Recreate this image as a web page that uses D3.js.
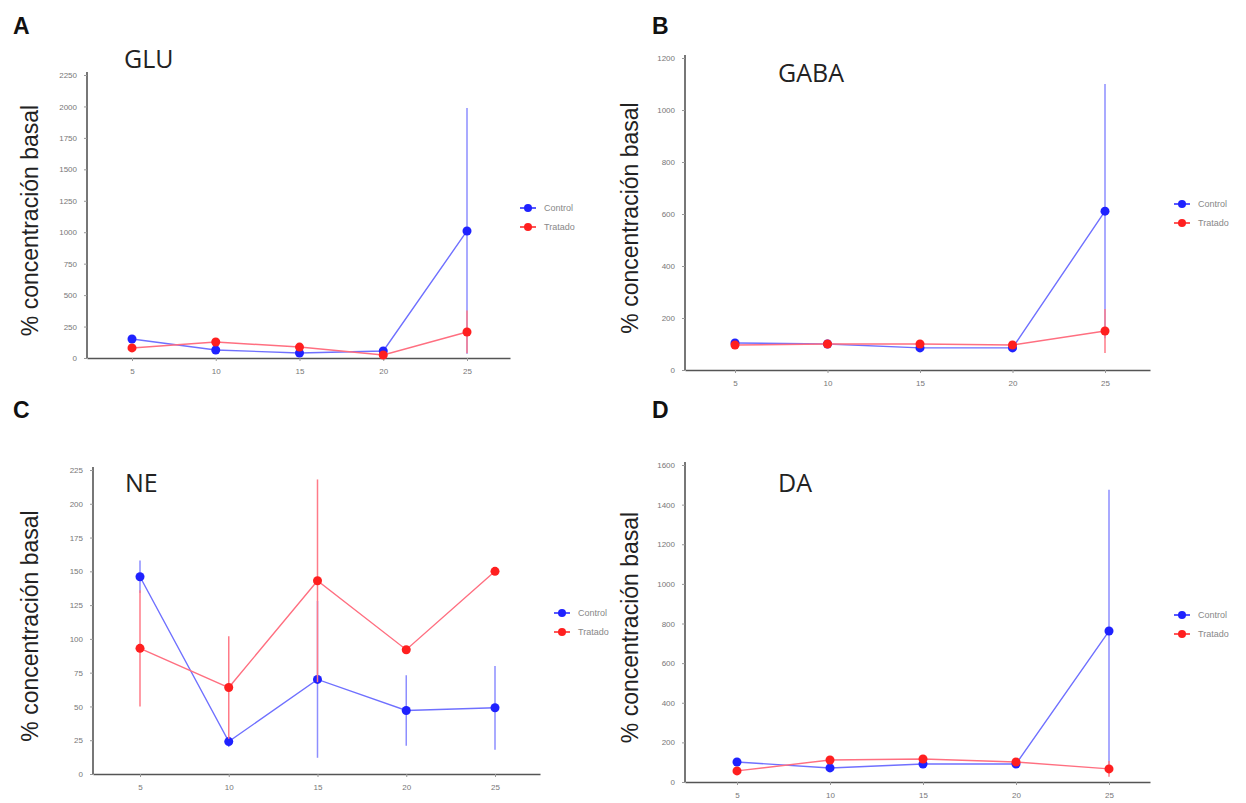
<!DOCTYPE html>
<html>
<head>
<meta charset="utf-8">
<script src="https://cdn.jsdelivr.net/npm/d3@7"></script>
<style>
  body { margin: 0; background: #fff; }
  svg { display: block; }
</style>
</head>
<body>
<div id="chart"></div>
<script>
// minutes
var times = [5, 10, 15, 20, 25];

// GLU
var gluControl = [151, 64, 40, 56, 1010];
var gluControlErr = [18, 10, 8, 8, 977];
var gluTratado = [80, 127, 87, 24, 207];
var gluTratadoErr = [22, 14, 10, 6, 170];

// GABA
var gabaControl = [104, 100, 85, 85, 611];
var gabaControlErr = [8, 6, 6, 6, 489];
var gabaTratado = [96, 100, 100, 96, 150];
var gabaTratadoErr = [8, 6, 6, 6, 85];

// NE
var neControl = [146, 24, 70, 47, 49];
var neControlErr = [12, 4, 58, 26, 31];
var neTratado = [93, 64, 143, 92, 150];
var neTratadoErr = [43, 38, 75, 2, 2];

// DA
var daControl = [101, 71, 91, 91, 762];
var daControlErr = [10, 6, 8, 8, 713];
var daTratado = [56, 111, 116, 101, 66];
var daTratadoErr = [10, 10, 10, 8, 40];

var legendLabels = ["Control", "Tratado"];

var blue = "#1f22ff", red = "#ff1f1f";

var svg = d3.select("#chart")
  .append("svg")
  .attr("width", 1246)
  .attr("height", 803)
  .style("font-family", "'Liberation Sans', Arial, sans-serif")

function drawPanel(p) {
  var g = svg.append("g")

  var x = d3.scaleLinear().domain([5, 25]).range([p.x5, p.x25])
  var y = d3.scaleLinear().domain([0, p.ymax]).range([p.y0, p.ytop])

  // x axis, stretched from the y axis to the right end
  var xAxisScale = d3.scaleLinear()
    .domain([x.invert(p.left), x.invert(p.right)])
    .range([p.left, p.right])
  var xa = g.append("g")
    .attr("transform", `translate(0, ${p.y0})`)
    .call(d3.axisBottom(xAxisScale).tickValues(times).tickSize(3).tickSizeOuter(0))
  xa.select(".domain").attr("stroke", "#555").attr("stroke-width", 1.6)
  xa.selectAll(".tick line").attr("stroke", "#999")
  xa.selectAll("text").attr("fill", "#777").style("font-size", "8px").attr("dy", "1.3em")

  // y axis
  var ya = g.append("g")
    .attr("transform", `translate(${p.left}, 0)`)
    .call(d3.axisLeft(y).tickValues(d3.range(0, p.ymax + 1, p.step))
      .tickFormat(d3.format("d")).tickSize(3).tickSizeOuter(0))
  ya.select(".domain").attr("stroke", "#555").attr("stroke-width", 1.6)
    .attr("d", `M0,${p.y0}V${p.ytop - 3}`)
  ya.selectAll(".tick line").attr("stroke", "#999")
  ya.selectAll("text").attr("fill", "#777").style("font-size", "8px").attr("dx", "-0.5em")

  // y label
  g.append("text")
    .attr("transform", `translate(${p.labelX}, ${(p.y0 + p.ytop) / 2 + 4}) rotate(-90)`)
    .attr("text-anchor", "middle")
    .style("font-size", "23px")
    .attr("fill", "#222")
    .text("% concentración basal")

  // panel letter
  g.append("text")
    .attr("x", p.letterX).attr("y", p.letterY)
    .style("font-size", "23px").style("font-weight", "bold")
    .attr("fill", "#111")
    .text(p.letter)

  // title
  g.append("text")
    .attr("x", p.titleX).attr("y", p.titleY)
    .style("font-family", "'Open Sans', sans-serif")
    .style("font-size", "25px")
    .attr("fill", "#222")
    .text(p.title)

  var series = [
    {vals: p.control, err: p.controlErr, color: blue, line: "#6f70ff", bar: "#8d8eff"},
    {vals: p.tratado, err: p.tratadoErr, color: red, line: "#ff6f80", bar: "#ff7b88"}
  ]

  var lineFunc = d3.line()
    .x(function(d, i) { return x(times[i]) })
    .y(function(d) { return y(d) })

  series.forEach(function(s) {
    // error bars
    s.vals.forEach(function(v, i) {
      var lo = Math.max(0, v - s.err[i]), hi = v + s.err[i]
      g.append("line")
        .attr("x1", x(times[i])).attr("x2", x(times[i]))
        .attr("y1", y(lo)).attr("y2", y(hi))
        .attr("stroke", s.bar).attr("stroke-width", 1.5)
    })
    g.append("path")
      .attr("d", lineFunc(s.vals))
      .attr("fill", "none")
      .attr("stroke", s.line)
      .attr("stroke-width", 1.4)
    g.selectAll(null)
      .data(s.vals)
      .enter().append("circle")
      .attr("cx", function(d, i) { return x(times[i]) })
      .attr("cy", function(d) { return y(d) })
      .attr("r", 4.5)
      .attr("fill", s.color)
  })

  // legend
  series.forEach(function(s, i) {
    var ly = p.legY + i * 19
    g.append("line")
      .attr("x1", p.legX - 8).attr("x2", p.legX + 8)
      .attr("y1", ly).attr("y2", ly)
      .attr("stroke", s.color).attr("stroke-width", 1.5)
    g.append("circle")
      .attr("cx", p.legX).attr("cy", ly).attr("r", 4)
      .attr("fill", s.color)
    g.append("text")
      .attr("x", p.legX + 16).attr("y", ly + 3)
      .style("font-size", "9px")
      .attr("fill", "#888")
      .text(legendLabels[i])
  })
}

drawPanel({letter: "A", letterX: 13, letterY: 34, title: "GLU", titleX: 124, titleY: 68,
  labelX: 38, left: 87, right: 510, x5: 132, x25: 467, y0: 358, ytop: 75, ymax: 2250, step: 250,
  control: gluControl, controlErr: gluControlErr, tratado: gluTratado, tratadoErr: gluTratadoErr,
  legX: 528, legY: 208})

drawPanel({letter: "B", letterX: 652, letterY: 34, title: "GABA", titleX: 778, titleY: 82,
  labelX: 638, left: 685, right: 1150, x5: 735, x25: 1105, y0: 370, ytop: 58, ymax: 1200, step: 200,
  control: gabaControl, controlErr: gabaControlErr, tratado: gabaTratado, tratadoErr: gabaTratadoErr,
  legX: 1182, legY: 204})

drawPanel({letter: "C", letterX: 13, letterY: 418, title: "NE", titleX: 125, titleY: 492,
  labelX: 38, left: 93, right: 540, x5: 140, x25: 495, y0: 774, ytop: 470, ymax: 225, step: 25,
  control: neControl, controlErr: neControlErr, tratado: neTratado, tratadoErr: neTratadoErr,
  legX: 562, legY: 613})

drawPanel({letter: "D", letterX: 652, letterY: 418, title: "DA", titleX: 778, titleY: 492,
  labelX: 638, left: 685, right: 1150, x5: 737, x25: 1109, y0: 782, ytop: 465, ymax: 1600, step: 200,
  control: daControl, controlErr: daControlErr, tratado: daTratado, tratadoErr: daTratadoErr,
  legX: 1182, legY: 615})
</script>
</body>
</html>
